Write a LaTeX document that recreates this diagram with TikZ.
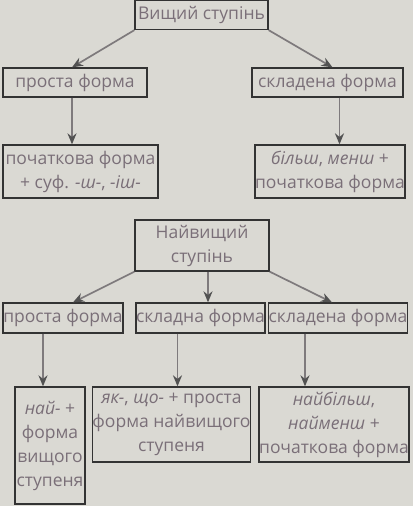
\documentclass[tikz,border=0pt]{standalone}
\usepackage{fontspec}
\setmainfont{Open Sans}
\usetikzlibrary{arrows.meta}

\definecolor{paper}{HTML}{DAD9D3}
\definecolor{ink}{HTML}{7A6F78}
\definecolor{frame}{HTML}{333333}
\definecolor{stem}{HTML}{7E7A7C}

\tikzset{
  box/.style={draw=frame, line width=1.3pt, text=ink, align=center, inner sep=0pt,
    font=\fontsize{17.5}{24}\selectfont},
  link/.style={draw=stem, line width=1.7pt, -{Stealth[length=11pt,width=9pt,color=frame!85]}}
}

\begin{document}
\begin{tikzpicture}[x=1pt, y=-1pt]

\fill [paper] (0,0) rectangle (413,506);
\useasboundingbox (0,0) rectangle (413,506);

% Comparative degree
\node (vyshch) at (201.5, 15) [box, minimum width=133, minimum height=29] {Вищий ступінь};

\node (prosta1) at (75, 82.5) [box, minimum width=144, minimum height=29] {проста форма};
\node (sklad1) at (327.5, 82.5) [box, minimum width=151, minimum height=29] {складена форма};

\node (poch1) at (80.5, 171.5) [box, minimum width=155, minimum height=53] {початкова форма\\+ суф. \textit{-ш-}, \textit{-іш-}};
\node (bilsh) at (330, 171.5) [box, minimum width=150, minimum height=53] {\textit{більш}, \textit{менш} +\\початкова форма};

\draw [link] (vyshch.south west) -- ([xshift=-3]prosta1.north);
\draw [link] (vyshch.south east) -- ([xshift=5]sklad1.north);
\draw [link] ([xshift=-3]prosta1.south) -- ([xshift=-3]prosta1.south |- poch1.north);
\draw [link] ([xshift=12]sklad1.south) -- ([xshift=12]sklad1.south |- bilsh.north);

% Superlative degree
\node (naivyshch) at (202, 245.5) [box, minimum width=134, minimum height=51] {Найвищий\\ступінь};

\node (prosta2) at (63, 318) [box, minimum width=120, minimum height=30] {проста форма};
\node (skladna2) at (200.5, 318) [box, minimum width=125, minimum height=30] {складна форма};
\node (sklad2) at (338, 318) [box, minimum width=130, minimum height=30] {складена форма};

\node (nai) at (50, 445.5) [box, minimum width=70, minimum height=117] {\textit{най-} +\\форма\\вищого\\ступеня};
\node (yak) at (171.5, 424.5) [box, minimum width=157, minimum height=75] {\textit{як-}, \textit{що-} + проста\\форма найвищого\\ступеня};
\node (naibilsh) at (334, 424.5) [box, minimum width=148, minimum height=75] {\textit{найбільш},\\\textit{найменш} +\\початкова форма};

\draw [link] (naivyshch.south west) -- ([xshift=10]prosta2.north);
\draw [link] ([xshift=6]naivyshch.south) -- ([xshift=6]naivyshch.south |- skladna2.north);
\draw [link] (naivyshch.south east) -- ([xshift=-6]sklad2.north);

\draw [link] ([xshift=-20]prosta2.south) -- ([xshift=-20]prosta2.south |- nai.north);
\draw [link] ([xshift=-23]skladna2.south) -- ([xshift=-23]skladna2.south |- yak.north);
\draw [link] ([xshift=-33]sklad2.south) -- ([xshift=-33]sklad2.south |- naibilsh.north);

\end{tikzpicture}
\end{document}
